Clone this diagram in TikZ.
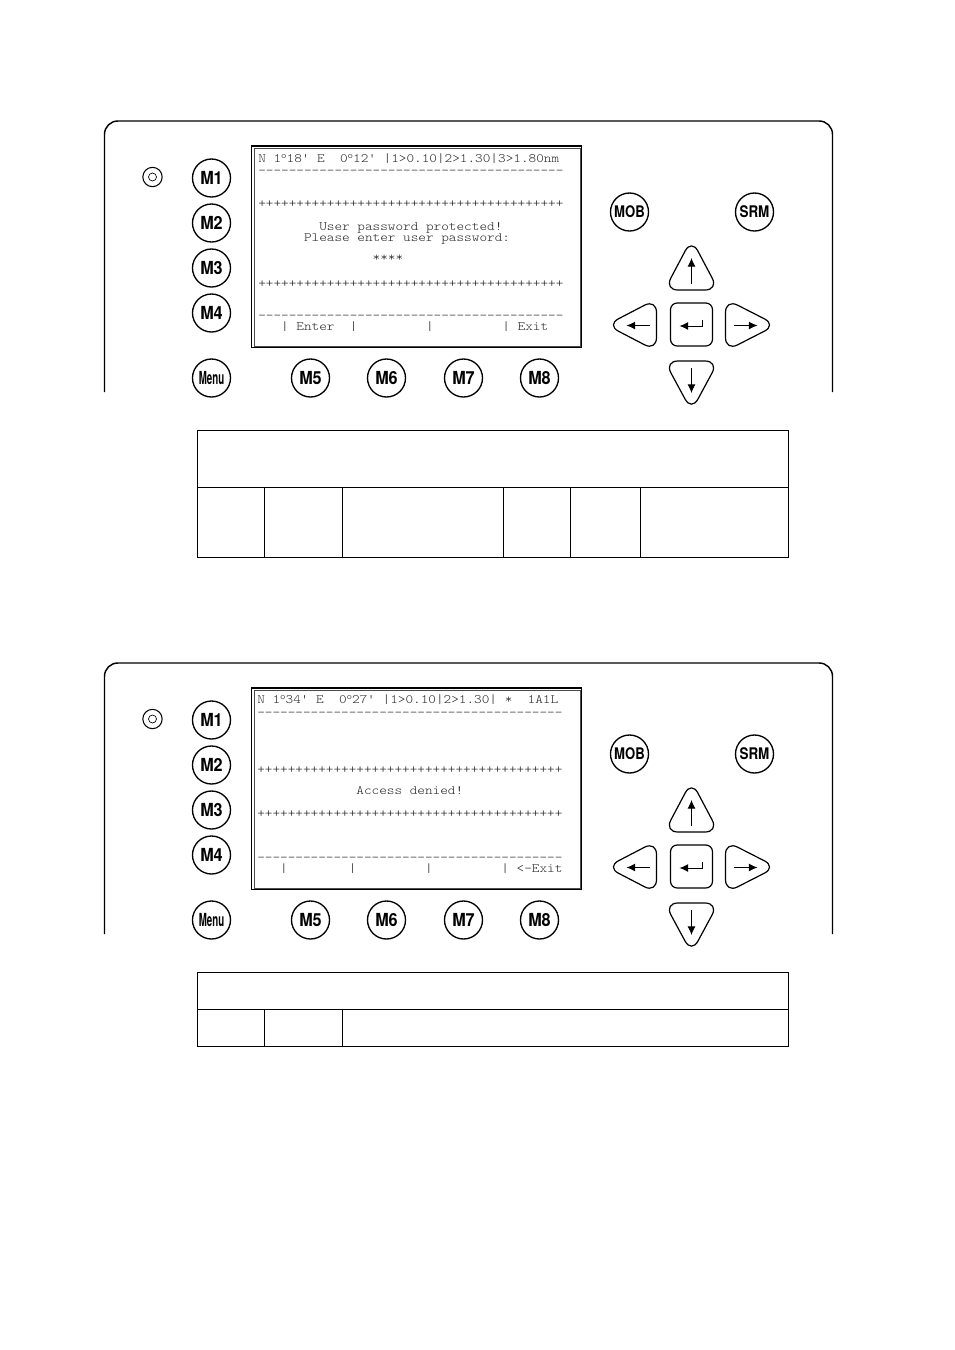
\documentclass[tikz,border=0pt]{standalone}
\usepackage{fontspec}
\setsansfont{TeX Gyre Heros}
\setmonofont[FakeStretch=1.14]{Latin Modern Mono Light}
\usetikzlibrary{positioning,arrows.meta}
\newcommand{\dg}{\raisebox{.3em}{\scalebox{.72}{o}}}
\tikzset{
  lcd/.style={anchor=base west,inner sep=0pt,text=black!85,font=\fontsize{9.56}{10}\selectfont\ttfamily},
  roundkey/.style={draw,circle,line width=1pt,minimum size=28.5pt,inner sep=0pt,font=\fontsize{13.5}{14}\selectfont\sffamily\bfseries},
  smallkey/.style={roundkey,font=\fontsize{12}{13}\selectfont\sffamily\bfseries},
  cell/.style={draw,line width=0.7pt,inner sep=0pt},
  keyline/.style={line width=0.9pt,rounded corners=10pt},
  keyarrow/.style={line width=0.7pt,-{Latex[length=6.5pt,width=6pt]}}
}
% front panel with all its keys, the screen text goes on top of it
\newcommand{\drawpanel}{
  \draw [line width=1.1pt,rounded corners=10pt] (104,392) -- (104,121) -- (832,121) -- (832,392);
  \node (led) [draw,circle,line width=0.8pt,minimum size=14.5pt,inner sep=0pt] at (152,177) {};
  \node (ledin) [draw,circle,line width=0.5pt,minimum size=6pt,inner sep=0pt] at (led.center) {};
  \foreach \keyname/\keyx/\keyy/\keyw in {M1/211/178/.9,M2/211/223/.9,M3/211/268/.9,M4/211/313/.9,
      M5/310/378/.9,M6/386/378/.9,M7/463/378/.9,M8/539/378/.9}
    \node (\keyname) [roundkey] at (\keyx,\keyy) {\scalebox{\keyw}[1]{\keyname}};
  \node (menu) [roundkey] at (211,378) {\scalebox{.54}[1]{Menu}};
  \node (mob) [smallkey] at (629,212) {\scalebox{.82}[1]{MOB}};
  \node (srm) [smallkey] at (754,212) {\scalebox{.84}[1]{SRM}};
  \draw [line width=1.4pt] (251,146) rectangle (581,347.5);
  \draw [line width=0.5pt,black!70] (254,148.5) rectangle (580,346);
  % cursor keys
  \draw [keyline] (691,239) -- (718,290) -- (664,290) -- cycle;
  \draw [keyline] (691,411) -- (718,361) -- (664,361) -- cycle;
  \draw [keyline] (606,325) -- (656,299) -- (656,351) -- cycle;
  \draw [keyline] (776,325) -- (725,299) -- (725,351) -- cycle;
  \draw [line width=0.9pt,rounded corners=5pt] (670,303) rectangle (712,346);
  \draw [keyarrow] (691,284) -- (691,258);
  \draw [keyarrow] (691,368) -- (691,393);
  \draw [keyarrow] (649,325.5) -- (626,325.5);
  \draw [keyarrow] (733,325.5) -- (757,325.5);
  \draw [keyarrow] (702,320) -- (702,326) -- (679,326);
}

\begin{document}
\begin{tikzpicture}[x=0.75pt,y=-0.75pt]
  \useasboundingbox (0,0) rectangle (954,1350);

  \begin{scope}[shift={(0.5,0)},name prefix=one-]
    \drawpanel
  \end{scope}
  \begin{scope}[name prefix=one-]
    \node (head)  [lcd] at (258,162) {N 1\dg 18' E~~0\dg 12' |1>0.10|2>1.30|3>1.80nm};
    \node (dashA) [lcd] at (258,174) {----------------------------------------};
    \node (plusA) [lcd] at (258,207.5) {++++++++++++++++++++++++++++++++++++++++};
    \node (userpw) [lcd] at (258,230.5) {~~~~~~~~User password protected!};
    \node (enterpw) [lcd] at (258,241.5) {~~~~~~Please enter user password:};
    \node (stars) [lcd] at (258,261) {~~~~~~~~~~~~~~~****};
    \node (plusB) [lcd] at (258,287) {++++++++++++++++++++++++++++++++++++++++};
    \node (dashB) [lcd] at (258,319.5) {----------------------------------------};
    \node (softkeys) [lcd] at (258,330) {~~~|~Enter~~|~~~~~~~~~|~~~~~~~~~|~Exit};
  \end{scope}

  \node (tabone) [cell,minimum width=443.25pt,minimum height=95pt] at (493,493.8) {};
  \draw [line width=0.7pt] (tabone.west |- 0,487.5) -- (tabone.east |- 0,487.5);
  \foreach \colx in {264.5,342.5,503.5,570.5,640.5}
    \draw [line width=0.7pt] (\colx,487.5) -- (\colx,557);

  \begin{scope}[shift={(0.5,542)},name prefix=two-]
    \drawpanel
  \end{scope}
  \begin{scope}[name prefix=two-]
    \node (head)  [lcd] at (257,703.7) {N 1\dg 34' E~~0\dg 27' |1>0.10|2>1.30| *~~1A1L};
    \node (dashA) [lcd] at (257,716) {----------------------------------------};
    \node (plusA) [lcd] at (257,773) {++++++++++++++++++++++++++++++++++++++++};
    \node (denied) [lcd] at (257,794.5) {~~~~~~~~~~~~~Access denied!};
    \node (plusB) [lcd] at (257,817) {++++++++++++++++++++++++++++++++++++++++};
    \node (dashB) [lcd] at (257,861) {----------------------------------------};
    \node (softkeys) [lcd] at (257,872.7) {~~~|~~~~~~~~|~~~~~~~~~|~~~~~~~~~|~<-Exit};
  \end{scope}

  \node (tabtwo) [cell,minimum width=443.25pt,minimum height=55.5pt] at (493,1009.5) {};
  \draw [line width=0.7pt] (tabtwo.west |- 0,1009.5) -- (tabtwo.east |- 0,1009.5);
  \foreach \colx in {264.5,342.5}
    \draw [line width=0.7pt] (\colx,1009.5) -- (\colx,1046.5);
\end{tikzpicture}
\end{document}
